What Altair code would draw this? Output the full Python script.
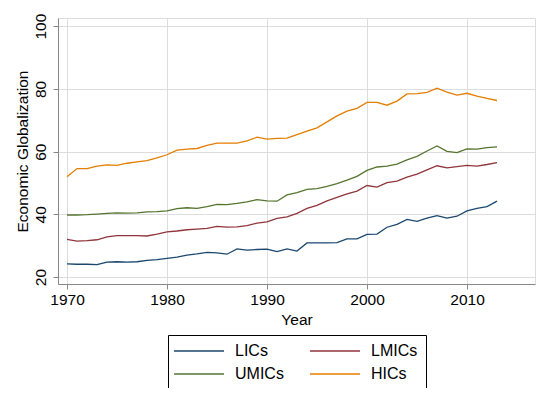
import altair as alt
import pandas as pd

years = list(range(1970, 2014))
groups = ["LICs", "LMICs", "UMICs", "HICs"]
legend_order = ["LICs", "UMICs", "LMICs", "HICs"]
colors = ["#1a476f", "#90353b", "#55752f", "#e37e00"]

lics = [24.2, 24.1, 24.1, 24.0, 24.8, 24.9, 24.8, 24.9, 25.3, 25.6,
        26.0, 26.4, 27.0, 27.4, 27.9, 27.7, 27.3, 29.0, 28.6, 28.8,
        28.9, 28.1, 29.0, 28.3, 30.9, 30.9, 30.9, 31.0, 32.2, 32.2,
        33.6, 33.7, 35.9, 36.8, 38.4, 37.8, 38.8, 39.6, 38.8, 39.4,
        41.1, 41.9, 42.5, 44.2]
lmics = [32.0, 31.5, 31.6, 31.9, 32.8, 33.2, 33.2, 33.2, 33.1, 33.7,
         34.4, 34.7, 35.1, 35.3, 35.5, 36.2, 35.9, 36.0, 36.4, 37.2,
         37.6, 38.7, 39.2, 40.3, 41.9, 42.9, 44.3, 45.4, 46.5, 47.4,
         49.2, 48.7, 50.1, 50.6, 51.9, 52.8, 54.2, 55.5, 54.8, 55.2,
         55.6, 55.4, 55.9, 56.5]
umics = [39.8, 39.8, 39.9, 40.1, 40.3, 40.5, 40.4, 40.5, 40.8, 40.9,
         41.1, 41.8, 42.1, 41.9, 42.5, 43.2, 43.1, 43.5, 44.0, 44.7,
         44.3, 44.2, 46.2, 46.9, 48.0, 48.2, 48.9, 49.8, 50.9, 52.1,
         54.0, 55.1, 55.4, 56.0, 57.4, 58.5, 60.2, 61.8, 60.1, 59.7,
         60.9, 60.8, 61.3, 61.5]
hics = [52.0, 54.6, 54.6, 55.4, 55.8, 55.6, 56.3, 56.7, 57.1, 58.0,
        59.0, 60.5, 60.8, 61.0, 62.0, 62.7, 62.7, 62.7, 63.4, 64.6,
        64.0, 64.2, 64.3, 65.4, 66.5, 67.6, 69.5, 71.4, 72.9, 73.8,
        75.7, 75.7, 74.8, 76.1, 78.4, 78.5, 78.9, 80.2, 79.0, 78.0,
        78.6, 77.7, 77.0, 76.3]

x_ticks = [1970, 1980, 1990, 2000, 2010]
y_ticks = [20, 40, 60, 80, 100]

rows = []
for g, vals in zip(groups, [lics, lmics, umics, hics]):
    for yr, v in zip(years, vals):
        rows.append({"Year": yr, "value": v, "group": g})
df = pd.DataFrame(rows)

FONT = "Liberation Sans"
W, H = 477, 266

chart = alt.Chart(df).mark_line(strokeWidth=1.3).encode(
    x=alt.X("Year:Q",
            scale=alt.Scale(domain=[1969.1, 2016.8], nice=False, zero=False),
            axis=alt.Axis(values=x_ticks, format="d", title="Year",
                          tickSize=5, labelPadding=3, labelFontSize=15.5,
                          titleFontSize=15.5, titleFontWeight="normal",
                          titleX=W / 2, titleY=35, titleBaseline="middle",
                          titleAlign="center")),
    y=alt.Y("value:Q",
            scale=alt.Scale(domain=[17.8, 102.6], nice=False, zero=False),
            axis=alt.Axis(values=y_ticks, title="Economic Globalization",
                          tickSize=5, labelPadding=5, labelAngle=270,
                          labelAlign="center", labelBaseline="bottom",
                          labelFontSize=15.5, titleFontSize=15.5,
                          titleFontWeight="normal", titleAngle=270,
                          titleX=-36, titleY=H / 2, titleAlign="center",
                          titleBaseline="middle")),
    color=alt.Color("group:N",
                    scale=alt.Scale(domain=groups, range=colors),
                    legend=alt.Legend(title=None, orient="none",
                                      values=legend_order,
                                      legendX=110, legendY=317,
                                      columns=2, columnPadding=23,
                                      rowPadding=7,
                                      symbolType="M-5,0H5",
                                      symbolSize=100, symbolOffset=15,
                                      symbolStrokeWidth=1.3,
                                      labelFontSize=16, labelOffset=28,
                                      labelFont=FONT, labelColor="black",
                                      strokeColor="black", fillColor="white",
                                      padding=8)),
).properties(
    width=W, height=H,
    autosize=alt.AutoSizeParams(type="none"),
    padding={"left": 50, "top": 10, "right": 7, "bottom": 104},
).configure_view(stroke=None).configure_axis(
    grid=False, domainColor="black", tickColor="black", labelColor="black",
    titleColor="black", labelFont=FONT, titleFont=FONT, domainWidth=1,
    tickWidth=1,
).configure(background="white")

chart.save("out.html", embed_options={"renderer": "svg", "actions": False})
